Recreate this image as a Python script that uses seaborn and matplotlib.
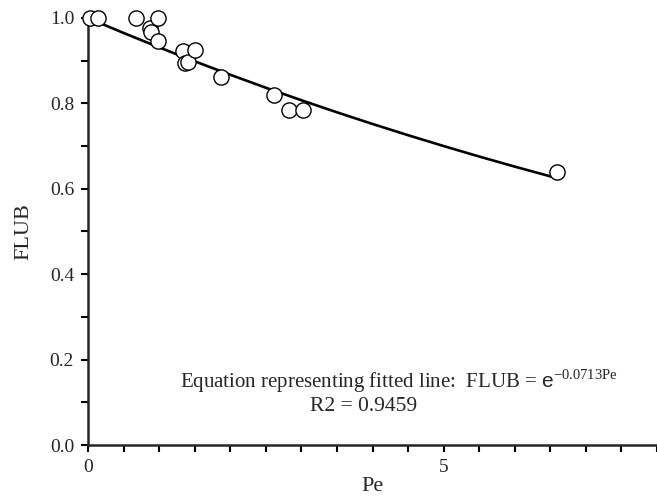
import numpy as np
import pandas as pd
import matplotlib
matplotlib.use("Agg")
import matplotlib.pyplot as plt
import seaborn as sns
from matplotlib.ticker import MultipleLocator

pe = [0.03, 0.14, 0.68, 0.87, 0.89, 0.98, 0.99, 1.34, 1.36, 1.40, 1.51, 1.87, 2.62, 2.83, 3.02, 6.60]
flub = [1.0, 1.0, 1.0, 0.976, 0.968, 1.0, 0.947, 0.922, 0.895, 0.898, 0.924, 0.861, 0.819, 0.784, 0.784, 0.640]
coef = -0.0713
fit_x = [0.0, 0.5, 1.0, 1.5, 2.0, 2.5, 3.0, 3.5, 4.0, 4.5, 5.0, 5.5, 6.0, 6.6]

sns.set_style("ticks")
plt.rcParams['font.family'] = ['Liberation Serif', 'DejaVu Serif']
plt.rcParams['mathtext.fontset'] = 'custom'
plt.rcParams['mathtext.rm'] = 'Liberation Serif'
plt.rcParams['mathtext.sf'] = 'Liberation Sans'

fig = plt.figure(figsize=(6.57, 5.0), dpi=100)
ax = fig.add_axes([88/657, 55/500, 569/657, 427/500])

df = pd.DataFrame({"Pe": pe, "FLUB": flub})
fit = pd.DataFrame({"Pe": fit_x, "FLUB": np.exp(coef * np.array(fit_x))})

sns.lineplot(data=fit, x="Pe", y="FLUB", ax=ax, color="black", lw=1.9, clip_on=False)
sns.scatterplot(data=df, x="Pe", y="FLUB", ax=ax, s=120, facecolor="white",
                edgecolor="black", linewidth=1.0, clip_on=False, zorder=3)

ax.set_xlim(0, 8)
ax.set_ylim(0, 1.0)
ax.xaxis.set_major_locator(MultipleLocator(5))
ax.xaxis.set_minor_locator(MultipleLocator(0.5))
ax.yaxis.set_major_locator(MultipleLocator(0.2))
ax.yaxis.set_minor_locator(MultipleLocator(0.1))
ax.yaxis.set_major_formatter(matplotlib.ticker.FormatStrFormatter('%.1f'))
ax.tick_params(which='both', direction='out', width=1.5, length=5, labelsize=14, color='black', pad=5)
for s in ['top', 'right']:
    ax.spines[s].set_visible(False)
for s in ['left', 'bottom']:
    ax.spines[s].set_linewidth(1.8)
ax.set_xlabel("Pe", fontsize=16, labelpad=1)
ax.set_ylabel("FLUB", fontsize=16, labelpad=12)

ax.text(1.30, 0.133, r"Equation representing fitted line:  FLUB = $\mathsf{e}^{-0.0713\mathrm{Pe}}$",
        ha='left', va='baseline', fontsize=15)
ax.text(3.88, 0.080, "R2 = 0.9459", ha='center', va='baseline', fontsize=15.5)

fig.savefig("out.png", dpi=100)
